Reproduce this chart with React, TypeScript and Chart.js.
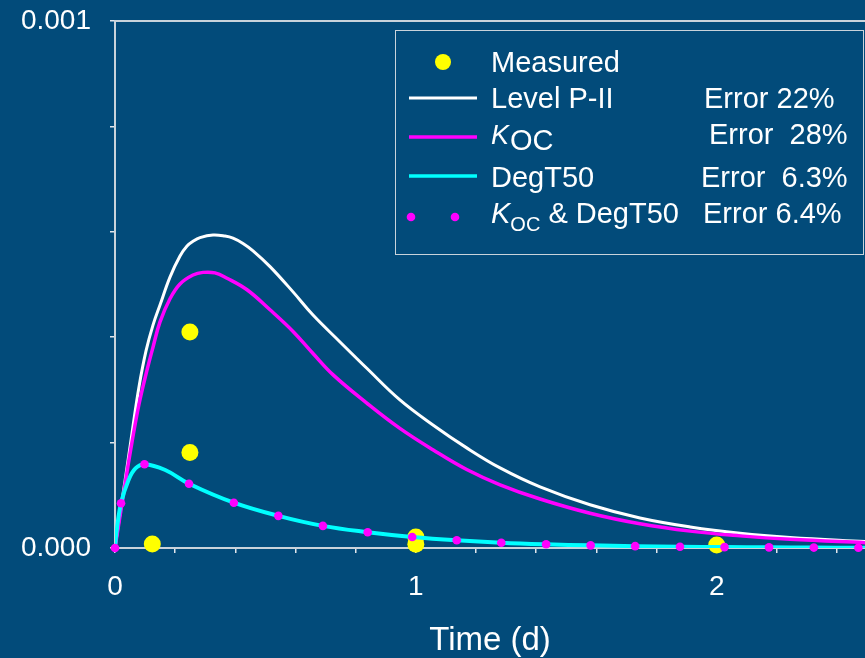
import { useEffect, useRef } from 'react';
import { Chart, registerables } from 'chart.js';

Chart.register(...registerables);

const BG = '#024b7a';
const AXIS = '#c9d3db';
const FONT = "'Liberation Sans', Arial, sans-serif";

// Measured points (time in days, concentration)
const measuredTime = [0.124, 0.249, 0.249, 1.0, 1.0, 2.0];
const measuredConc = [0.0000076, 0.00041, 0.000181, 0.000021, 0.000007, 0.0000057];

// Level P-II model (white)
const levelTime = [0, 0.0199, 0.0332, 0.0565, 0.0798, 0.1031, 0.1263, 0.1496, 0.1828, 0.2161, 0.2394, 0.2593, 0.2826, 0.3258, 0.3657, 0.3923, 0.4255, 0.4588, 0.5153, 0.5918, 0.6582, 0.748, 0.837, 0.947, 1.058, 1.169, 1.28, 1.413, 1.579, 1.745, 1.912, 2.078, 2.244, 2.5];
const levelConc = [0, 0.0000778, 0.000127, 0.000218, 0.000306, 0.000374, 0.000423, 0.000461, 0.000514, 0.000554, 0.000573, 0.000582, 0.000589, 0.000594, 0.000592, 0.000588, 0.000578, 0.000564, 0.000534, 0.000486, 0.000442, 0.000391, 0.000341, 0.000281, 0.000233, 0.00019, 0.000152, 0.000116, 0.000082, 0.000057, 0.00004, 0.000028, 0.00002, 0.000012];

// KOC model (magenta line)
const kocTime = [0, 0.0199, 0.0366, 0.0565, 0.0798, 0.1031, 0.1263, 0.1496, 0.1828, 0.2161, 0.2593, 0.2926, 0.3324, 0.3723, 0.4388, 0.5153, 0.5918, 0.6582, 0.726, 0.837, 0.947, 1.058, 1.169, 1.28, 1.413, 1.579, 1.745, 1.912, 2.078, 2.244, 2.5];
const kocConc = [0, 0.0000721, 0.000133, 0.000201, 0.000273, 0.00033, 0.000381, 0.000429, 0.000473, 0.000501, 0.000518, 0.000523, 0.000522, 0.000512, 0.00049, 0.000452, 0.000411, 0.000369, 0.000328, 0.000275, 0.000227, 0.000186, 0.000149, 0.00012, 0.000093, 0.000066, 0.000046, 0.000032, 0.000023, 0.0000165, 0.00001];

// DegT50 model (cyan line)
const degTime = [0, 0.005, 0.02, 0.045, 0.068, 0.098, 0.167, 0.246, 0.395, 0.543, 0.691, 0.84, 0.988, 1.136, 1.284, 1.433, 1.581, 1.729, 1.878, 2.026, 2.174, 2.323, 2.471, 2.5];
const degConc = [0, 0.00003, 0.000085, 0.000129, 0.000151, 0.000159, 0.000148, 0.000122, 0.000086, 0.000061, 0.000042, 0.00003, 0.000021, 0.0000146, 0.00001, 0.000007, 0.000005, 0.0000035, 0.0000025, 0.0000017, 0.0000012, 0.0000008, 0.0000006, 0.0000005];

// KOC & DegT50 model (magenta dots)
const bothTime = [0, 0.02, 0.098, 0.246, 0.395, 0.543, 0.691, 0.84, 0.988, 1.136, 1.284, 1.433, 1.581, 1.729, 1.878, 2.026, 2.174, 2.323, 2.471];
const bothConc = [0, 0.000085, 0.000159, 0.000122, 0.000086, 0.000061, 0.000042, 0.00003, 0.000021, 0.0000146, 0.00001, 0.000007, 0.000005, 0.0000035, 0.0000025, 0.0000017, 0.0000012, 0.0000008, 0.0000006];

const xTickStep = 0.2;
const yTickStep = 0.0002;
const xLabels: Record<string, string> = { '0': '0', '1': '1', '2': '2' };
const yLabels: Record<string, string> = { '0': '0.000', '0.001': '0.001' };

const pairs = (t: number[], v: number[]) => t.map((x, i) => ({ x, y: v[i] }));

const decorPlugin = {
  id: 'decor',
  beforeDraw(chart: any) {
    const { ctx, width, height } = chart;
    ctx.save();
    ctx.fillStyle = BG;
    ctx.fillRect(0, 0, width, height);
    ctx.restore();
  },
  beforeDatasetsDraw(chart: any) {
    const { ctx, chartArea } = chart;
    ctx.save();
    ctx.strokeStyle = AXIS;
    ctx.lineWidth = 2;
    ctx.beginPath();
    ctx.moveTo(chartArea.left, chartArea.top);
    ctx.lineTo(chartArea.right, chartArea.top);
    ctx.stroke();
    ctx.restore();
  },
  afterDraw(chart: any) {
    const ctx = chart.ctx as CanvasRenderingContext2D;
    ctx.save();
    ctx.fillStyle = BG;
    ctx.fillRect(395, 30, 468, 224);
    ctx.strokeStyle = AXIS;
    ctx.lineWidth = 1;
    ctx.strokeRect(395.5, 30.5, 468, 224);

    // symbols
    ctx.fillStyle = '#ffff00';
    ctx.beginPath();
    ctx.arc(443, 62, 8, 0, Math.PI * 2);
    ctx.fill();
    const line = (y: number, c: string, w: number) => {
      ctx.strokeStyle = c;
      ctx.lineWidth = w;
      ctx.beginPath();
      ctx.moveTo(409, y);
      ctx.lineTo(477, y);
      ctx.stroke();
    };
    line(98, '#ffffff', 3);
    line(137, '#ff00ff', 3.5);
    line(176, '#00ffff', 3.5);
    ctx.fillStyle = '#ff00ff';
    [411, 455].forEach((x) => {
      ctx.beginPath();
      ctx.arc(x, 217, 4.3, 0, Math.PI * 2);
      ctx.fill();
    });

    // texts
    ctx.fillStyle = '#ffffff';
    ctx.textBaseline = 'alphabetic';
    ctx.textAlign = 'left';
    const f = (size: number, italic = false) => `${italic ? 'italic ' : ''}${size}px ${FONT}`;
    ctx.font = f(29);
    ctx.fillText('Measured', 491, 72);
    ctx.fillText('Level P-II', 491, 108);
    ctx.fillText('Error 22%', 704, 108);
    // K_OC row
    ctx.font = f(27, true);
    ctx.fillText('K', 491, 144);
    let w = ctx.measureText('K').width;
    ctx.font = f(29);
    ctx.fillText('OC', 491 + w + 1, 149.5);
    ctx.fillText('Error  28%', 709, 144);
    ctx.fillText('DegT50', 491, 186.5);
    ctx.fillText('Error  6.3%', 701, 186.5);
    // K_OC & DegT50 row
    ctx.font = f(29, true);
    ctx.fillText('K', 491, 222.5);
    w = ctx.measureText('K').width;
    ctx.font = f(20);
    ctx.fillText('OC', 491 + w, 231);
    const w2 = ctx.measureText('OC').width;
    ctx.font = f(29);
    ctx.fillText(' & DegT50', 491 + w + w2, 222.5);
    ctx.fillText('Error 6.4%', 703, 222.5);
    ctx.restore();
  },
};

export default function App() {
  const ref = useRef<HTMLCanvasElement>(null);
  useEffect(() => {
    if (!ref.current) return;
    const chart = new Chart(ref.current, {
      type: 'scatter',
      data: {
        datasets: [
          {
            label: 'KOC & DegT50',
            data: pairs(bothTime, bothConc),
            showLine: false,
            pointRadius: 4.3,
            pointBackgroundColor: '#ff00ff',
            pointBorderWidth: 0,
            clip: false as any,
          },
          {
            label: 'DegT50',
            data: pairs(degTime, degConc),
            showLine: true,
            borderColor: '#00ffff',
            borderWidth: 4,
            pointRadius: 0,
            tension: 0.4,
          },
          {
            label: 'KOC',
            data: pairs(kocTime, kocConc),
            showLine: true,
            borderColor: '#ff00ff',
            borderWidth: 3.5,
            pointRadius: 0,
            tension: 0.4,
          },
          {
            label: 'Level P-II',
            data: pairs(levelTime, levelConc),
            showLine: true,
            borderColor: '#ffffff',
            borderWidth: 3,
            pointRadius: 0,
            tension: 0.4,
          },
          {
            label: 'Measured',
            data: pairs(measuredTime, measuredConc),
            showLine: false,
            pointRadius: 8.5,
            pointBackgroundColor: '#ffff00',
            pointBorderWidth: 0,
            clip: false as any,
          },
        ],
      },
      options: {
        responsive: false,
        animation: false,
        events: [],
        layout: { autoPadding: false, padding: { top: 21, right: 0, bottom: 0, left: 0 } },
        plugins: { legend: { display: false }, tooltip: { enabled: false } },
        scales: {
          x: {
            type: 'linear',
            min: 0,
            max: 2.493,
            afterFit: (s: any) => {
              s.height = 110;
              s.paddingLeft = 0;
              s.paddingRight = 0;
            },
            ticks: {
              stepSize: xTickStep,
              includeBounds: false,
              autoSkip: false,
              maxRotation: 0,
              padding: 17,
              color: '#ffffff',
              font: { family: FONT, size: 28 },
              callback: (v: any) => {
                const k = String(Math.round(Number(v) * 1000) / 1000);
                return xLabels[k] ?? '';
              },
            },
            grid: { display: true, drawOnChartArea: false, drawTicks: true, tickLength: 5, color: '#e0e6ec', lineWidth: 1.5 },
            border: { display: true, color: AXIS, width: 2 },
            title: { display: true, text: 'Time (d)', color: '#ffffff', font: { family: FONT, size: 33 }, padding: { top: 0, bottom: -3 } },
          },
          y: {
            type: 'linear',
            min: 0,
            max: 0.001,
            afterFit: (s: any) => {
              s.width = 115;
              s.paddingTop = 0;
              s.paddingBottom = 0;
            },
            ticks: {
              stepSize: yTickStep,
              autoSkip: false,
              padding: 19,
              color: '#ffffff',
              font: { family: FONT, size: 28 },
              callback: (v: any) => {
                const k = String(Math.round(Number(v) * 1e6) / 1e6);
                return yLabels[k] ?? '';
              },
            },
            grid: { display: true, drawOnChartArea: false, drawTicks: true, tickLength: 5, color: '#e0e6ec', lineWidth: 1.5 },
            border: { display: true, color: AXIS, width: 2 },
          },
        },
      },
      plugins: [decorPlugin],
    } as any);
    return () => chart.destroy();
  }, []);
  return (
    <div style={{ position: 'fixed', left: 0, top: 0, width: 865, height: 658, background: BG }}>
      <canvas ref={ref} width={865} height={658} style={{ display: 'block', width: 865, height: 658 }} />
    </div>
  );
}
